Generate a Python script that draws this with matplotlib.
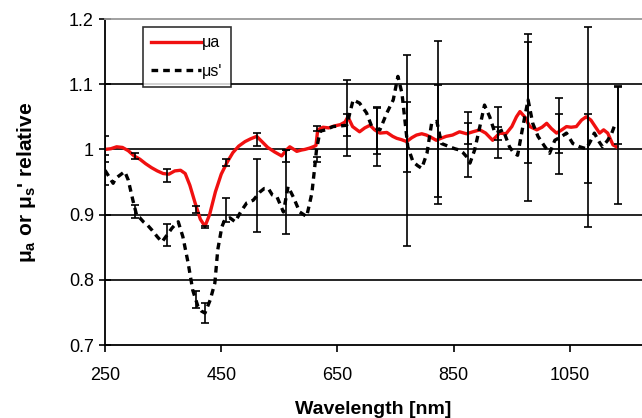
import matplotlib
matplotlib.use("Agg")
import matplotlib.pyplot as plt

plt.rcParams['font.family'] = ['Liberation Sans', 'DejaVu Sans']
plt.rcParams['mathtext.fontset'] = 'custom'
plt.rcParams['mathtext.rm'] = 'Liberation Sans'
plt.rcParams['mathtext.bf'] = 'Liberation Sans:bold'

# --- data ---
red_w = [250, 260, 270, 280, 290, 300, 310, 320, 330, 340, 350, 360, 370, 380, 388, 396, 405, 414, 422,
         430, 440, 450, 460, 470, 480, 491, 500, 511, 520, 530, 542, 554, 562, 568, 575, 580, 588, 594,
         602, 608, 613, 616, 625, 635, 645, 655, 663, 668, 676, 688, 697, 706, 714, 723, 735, 745, 752,
         760, 769, 778, 786, 795, 803, 812, 820, 828, 837, 848, 860, 872, 883, 895, 905, 917, 929, 940,
         950, 958, 964, 972, 981, 993, 1002, 1010, 1018, 1027, 1036, 1044, 1052, 1061, 1070, 1078, 1086,
         1092, 1101, 1108, 1115, 1120, 1124, 1130]
red_v = [1.0, 1.001, 1.004, 1.003, 0.998, 0.99, 0.985, 0.978, 0.972, 0.967, 0.963, 0.962, 0.967, 0.968,
         0.963, 0.945, 0.918, 0.893, 0.882, 0.9, 0.935, 0.962, 0.98, 0.995, 1.005, 1.012, 1.016, 1.02,
         1.012, 1.003, 0.996, 0.99, 0.999, 1.004, 1.0, 0.997, 0.999, 1.0, 1.002, 1.004, 1.006, 1.03,
         1.034, 1.033, 1.036, 1.038, 1.042, 1.05, 1.035, 1.027, 1.033, 1.037, 1.03, 1.025, 1.026, 1.02,
         1.017, 1.015, 1.012, 1.018, 1.022, 1.024, 1.022, 1.018, 1.014, 1.017, 1.02, 1.022, 1.027, 1.024,
         1.027, 1.03, 1.025, 1.014, 1.025, 1.024, 1.035, 1.05, 1.058, 1.05, 1.035, 1.03, 1.034, 1.04,
         1.032, 1.025, 1.03, 1.035, 1.034, 1.035, 1.045, 1.05, 1.045, 1.037, 1.025, 1.03, 1.025, 1.015,
         1.007, 1.004]

blk_w = [250, 257, 264, 268, 272, 278, 284, 290, 298, 305, 310, 316, 323, 331, 340, 348, 357, 365, 370,
         376, 384, 393, 401, 410, 416, 422, 431, 439, 444, 451, 456, 465, 474, 484, 494, 505, 517, 524,
         531, 538, 546, 557, 565, 574, 585, 597, 606, 611, 614, 620, 630, 642, 655, 666, 677, 688, 700,
         709, 723, 735, 746, 754, 761, 766, 771, 780, 788, 795, 804, 812, 821, 829, 843, 852, 860, 866,
         872, 878, 886, 895, 903, 912, 921, 930, 935, 946, 953, 960, 969, 978, 986, 995, 1007, 1015, 1024,
         1036, 1044, 1055, 1067, 1078, 1085, 1092, 1100, 1106, 1115, 1122, 1127, 1130]
blk_v = [0.968, 0.958, 0.948, 0.955, 0.958, 0.962, 0.966, 0.953, 0.922, 0.897, 0.895, 0.889, 0.884,
         0.876, 0.866, 0.858, 0.869, 0.879, 0.884, 0.889, 0.866, 0.826, 0.784, 0.759, 0.752, 0.749, 0.769,
         0.795, 0.846, 0.881, 0.892, 0.895, 0.889, 0.905, 0.918, 0.922, 0.935, 0.94, 0.94, 0.93, 0.927,
         0.904, 0.943, 0.927, 0.904, 0.897, 0.933, 0.974, 1.0, 1.028, 1.03, 1.035, 1.036, 1.037, 1.076,
         1.071, 1.056, 1.035, 1.03, 1.056, 1.076, 1.112, 1.086, 1.045, 1.004, 0.981, 0.975, 0.971, 0.994,
         1.04, 1.043, 1.009, 1.004, 1.001, 0.999, 0.995, 0.989, 0.979, 0.999, 1.035, 1.068, 1.05, 1.025,
         1.028, 1.03, 1.004, 0.995, 0.991, 1.035, 1.076, 1.04, 1.02, 1.004, 0.994, 1.014, 1.02, 1.025,
         1.009, 1.004, 1.001, 1.012, 1.025, 1.012, 1.004, 1.014, 1.025, 1.037, 1.04]

err_w = [250, 302, 356, 406, 422, 458, 511, 561, 614, 667, 718, 770, 823, 874, 926, 977, 1031, 1081, 1133]
red_err_c = [1.0, 0.99, 0.96, 0.908, 0.881, 0.98, 1.015, 0.99, 1.032, 1.038, 1.028, 1.019, 1.013, 1.025,
             1.025, 1.072, 1.025, 1.001, 1.052]
red_err = [0.02, 0.004, 0.01, 0.005, 0.002, 0.006, 0.01, 0.009, 0.004, 0.017, 0.035, 0.053, 0.086, 0.016,
           0.01, 0.093, 0.03, 0.053, 0.043]
blk_err_c = [0.968, 0.905, 0.869, 0.77, 0.749, 0.907, 0.93, 0.935, 0.985, 1.048, 1.02, 0.9985, 1.042,
             1.0075, 1.026, 1.049, 1.021, 1.034, 1.0065]
blk_err = [0.023, 0.01, 0.017, 0.013, 0.016, 0.018, 0.056, 0.064, 0.004, 0.058, 0.045, 0.147, 0.125, 0.05,
           0.039, 0.128, 0.058, 0.153, 0.09]

x_ticks = [250, 450, 650, 850, 1050]
y_ticks = [0.7, 0.8, 0.9, 1.0, 1.1, 1.2]
y_tick_labels = ['0.7', '0.8', '0.9', '1', '1.1', '1.2']

# --- figure ---
fig = plt.figure(figsize=(6.42, 4.18), dpi=100)
ax = fig.add_axes([105 / 642, 1 - 345 / 418, 537 / 642, 326 / 418])

for yv in [0.8, 0.9, 1.0, 1.1]:
    ax.axhline(yv, color='black', lw=1.2, zorder=1)

ax.plot(red_w, red_v, color='#f01010', lw=2.4, label='μa', zorder=3)
ax.plot(blk_w, blk_v, color='black', lw=2.4, ls=(0, (2.0, 1.5)), label="μs'", zorder=3)

ax.errorbar(err_w, red_err_c, yerr=red_err, fmt='none', ecolor='black', elinewidth=1.2,
            capsize=3.2, capthick=1.2, zorder=4)
ax.errorbar(err_w, blk_err_c, yerr=blk_err, fmt='none', ecolor='black', elinewidth=1.2,
            capsize=3.2, capthick=1.2, zorder=4)

ax.set_xlim(250, 1174)
ax.set_ylim(0.7, 1.2)
ax.set_xticks(x_ticks)
ax.set_yticks(y_ticks)
ax.set_yticklabels(y_tick_labels)
ax.tick_params(axis='y', direction='inout', length=8, width=1.2, labelsize=13, pad=4)
ax.tick_params(axis='x', direction='out', length=5, width=1.2, labelsize=13, pad=11)

for s in ['left', 'bottom']:
    ax.spines[s].set_color('black')
    ax.spines[s].set_linewidth(1.3)
ax.spines['top'].set_color('#999999')
ax.spines['top'].set_linewidth(1.3)
ax.spines['right'].set_visible(False)

ax.set_xlabel('Wavelength [nm]', fontsize=14, fontweight='bold', labelpad=12)
ax.set_ylabel(r"μ$_\mathbf{a}$ or μ$_\mathbf{s}$' relative", fontsize=15, fontweight='bold', labelpad=22)

leg = ax.legend(loc='upper left', bbox_to_anchor=(0.071, 0.975), frameon=True, fancybox=False,
                edgecolor='black', fontsize=11.5, handlelength=3.1, handletextpad=0.1,
                borderpad=0.5, labelspacing=0.85, borderaxespad=0)
leg.get_frame().set_linewidth(1.2)

fig.savefig('out.png', dpi=100)
